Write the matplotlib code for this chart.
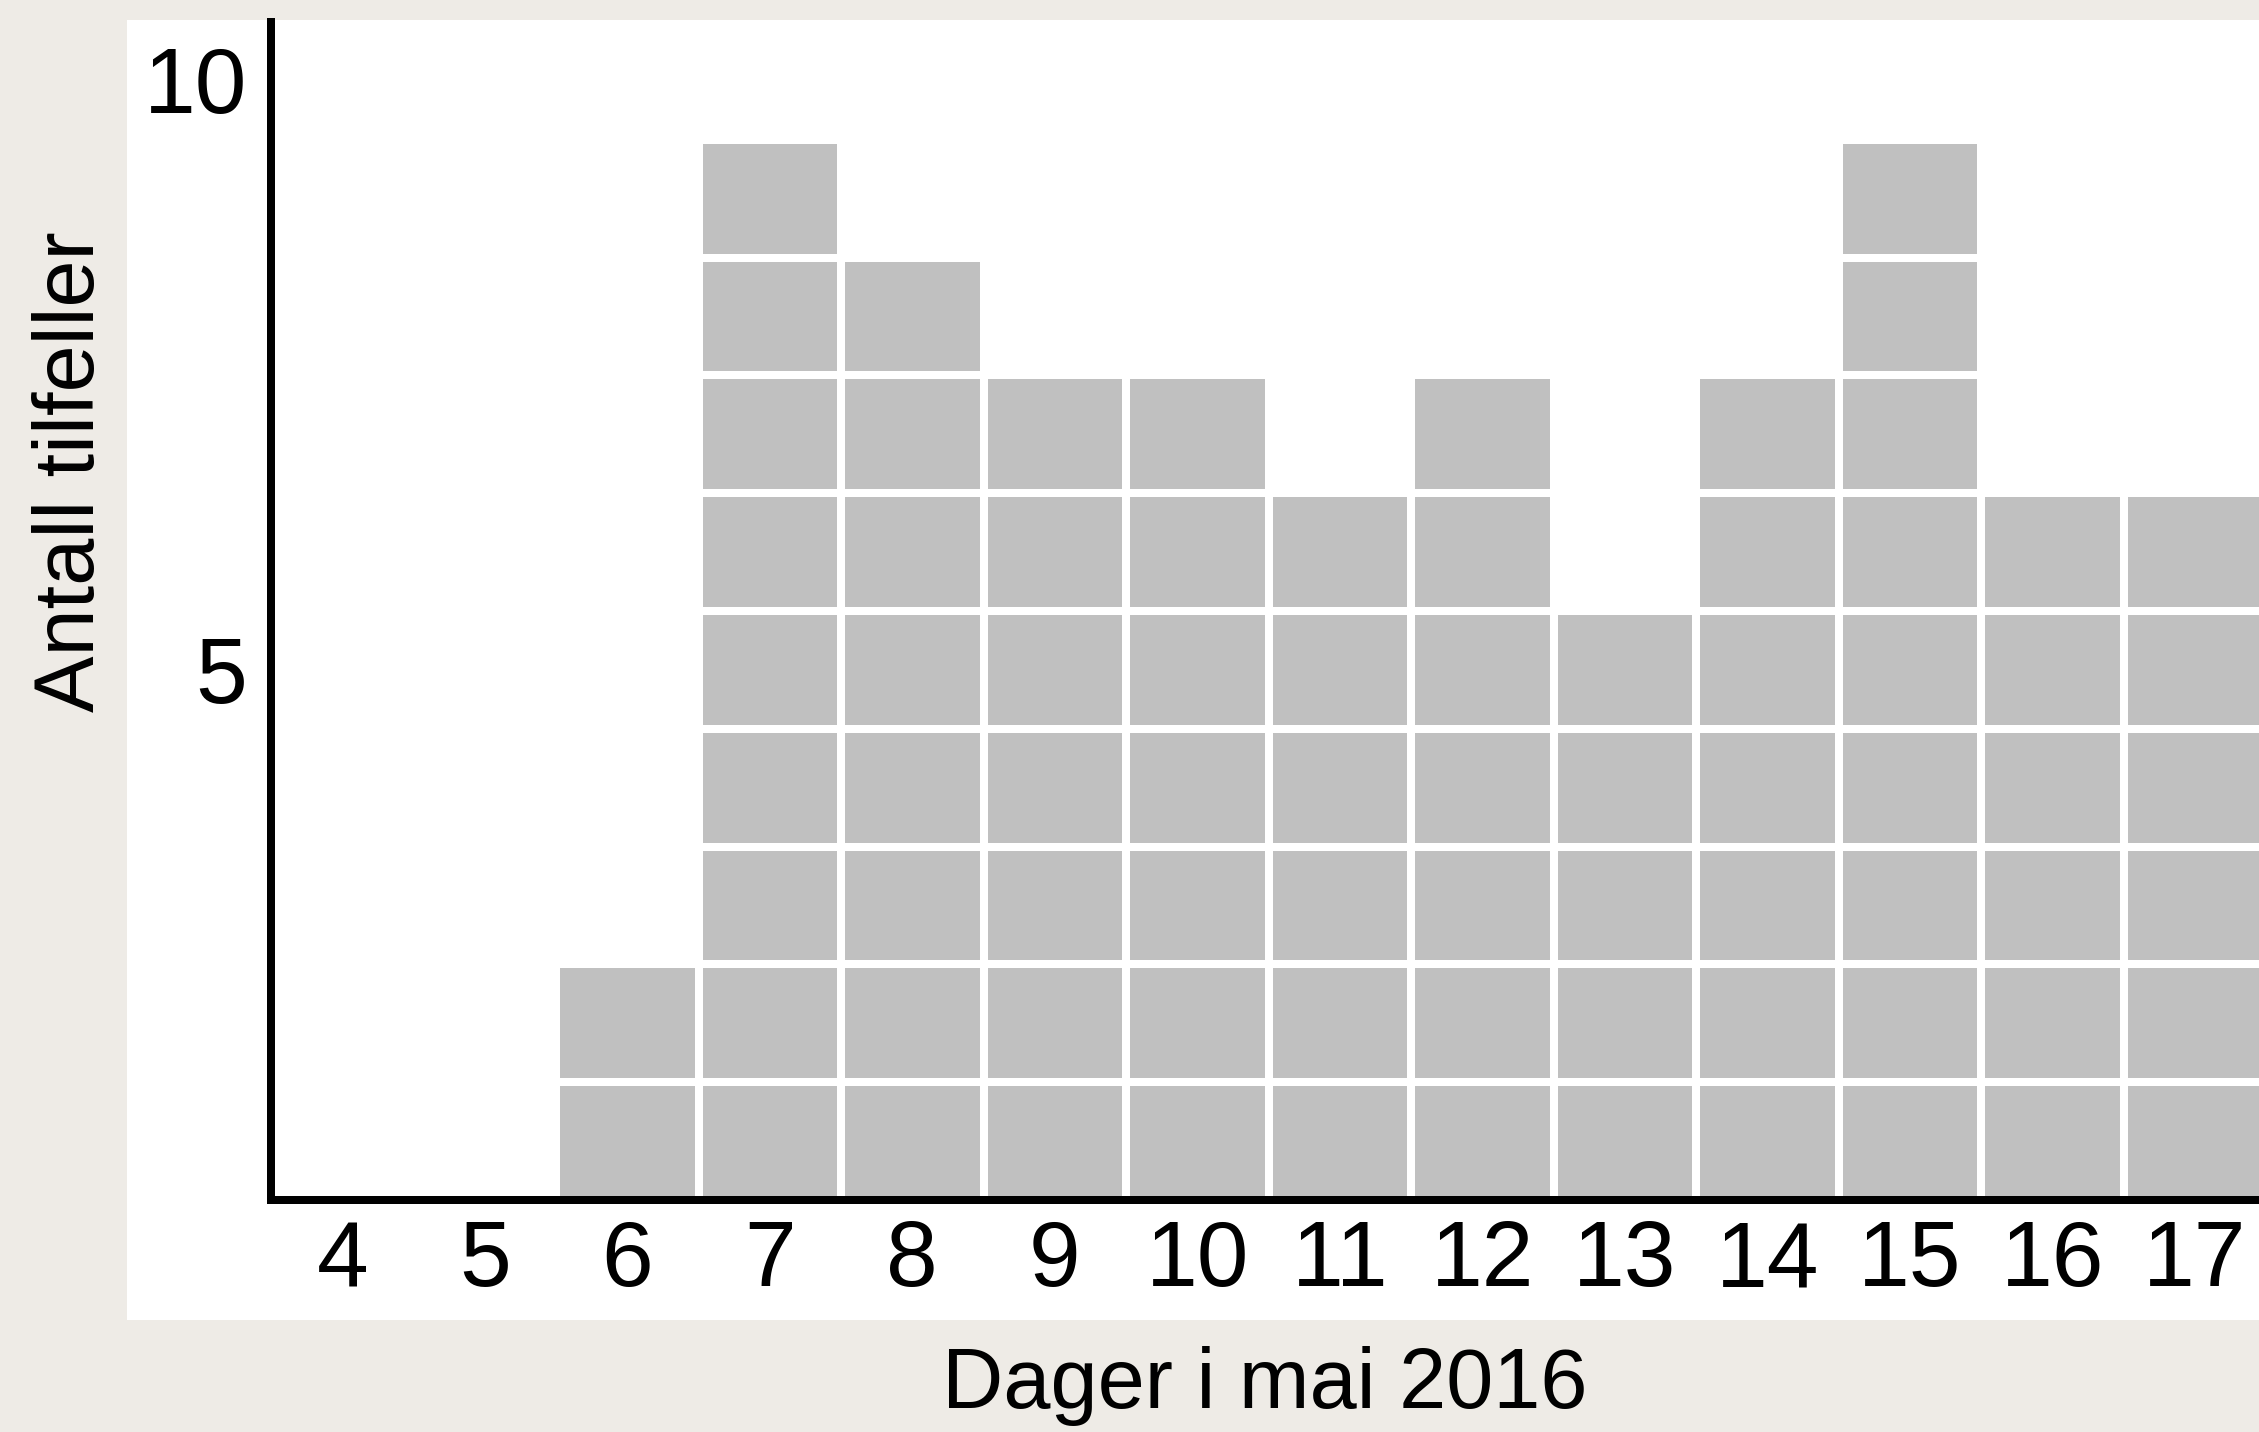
import matplotlib
matplotlib.use("Agg")
import matplotlib.pyplot as plt
from matplotlib.patches import Rectangle
from matplotlib.transforms import ScaledTranslation

days = [4, 5, 6, 7, 8, 9, 10, 11, 12, 13, 14, 15, 16, 17]
counts = [0, 0, 2, 9, 8, 7, 7, 6, 7, 5, 7, 9, 6, 6]
day_labels = [str(d) for d in days]
y_ticks = [5, 10]
x_title = "Dager i mai 2016"
y_title = "Antall tilfeller"

W, H, DPI = 2259, 1432, 100
plt.rcParams['font.family'] = ['Liberation Sans', 'DejaVu Sans']

fig = plt.figure(figsize=(W / DPI, H / DPI), dpi=DPI, facecolor='#EEEBE6')
fig.patches.append(Rectangle((127 / W, 1 - 1320 / H), 1 - 127 / W, (1320 - 20) / H,
                             transform=fig.transFigure, facecolor='white',
                             edgecolor='none', zorder=-10))

left_px = 271
left = left_px / W
bottom = 1 - 1200 / H
top = 1 - 22 / H
ax = fig.add_axes([left, bottom, 1 - left, top - bottom])
ax.set_facecolor('none')
ax.set_zorder(5)

lw = 8 * 72 / DPI
for d, c in zip(days, counts):
    for k in range(c):
        ax.bar(d, 1, bottom=k, width=1, color='#C0C0C0', edgecolor='white',
               linewidth=lw, zorder=1)

ax.set_xlim(3.5, 3.5 + (W - left_px) / 142.5)
ax.set_ylim(0, 10)
for s in ['top', 'right']:
    ax.spines[s].set_visible(False)
for s in ['left', 'bottom']:
    ax.spines[s].set_linewidth(lw)
    ax.spines[s].set_color('black')
    ax.spines[s].set_zorder(3)

fs = 67
ax.set_xticks(days)
ax.set_xticklabels(day_labels, fontsize=fs)
ax.set_yticks(y_ticks)
ax.set_yticklabels([str(v) for v in y_ticks], fontsize=fs)
ax.tick_params(axis='both', length=0)
ax.tick_params(axis='x', pad=14)
ax.tick_params(axis='y', pad=17)
off = ScaledTranslation(0, -0.58, fig.dpi_scale_trans)
for lab in ax.get_yticklabels():
    lab.set_transform(lab.get_transform() + off)

lfs = 61
ax.set_xlabel(x_title, fontsize=lfs, labelpad=29)
ax.set_ylabel(y_title, fontsize=lfs)
ax.yaxis.label.set_va('center')
ax.yaxis.set_label_coords((72 - left_px) / (W - left_px), (1200 - 472) / (1200 - 22))

fig.savefig("out.png", dpi=DPI, facecolor=fig.get_facecolor())
